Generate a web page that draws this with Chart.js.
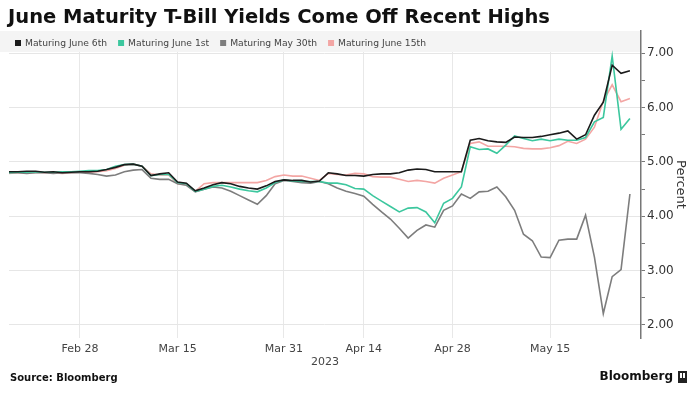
<!DOCTYPE html>
<html>
<head>
<meta charset="utf-8">
<script src="https://cdn.jsdelivr.net/npm/chart.js@4.4.0/dist/chart.umd.min.js"></script>
<style>
  html, body { margin: 0; padding: 0; background: #fff; }
</style>
</head>
<body>
<canvas id="myChart" width="698" height="398"></canvas>
<script>
// business days shown on the x axis (Good Friday and Presidents Day skipped)
const dates = [
  "Feb 15","Feb 16","Feb 17","Feb 21","Feb 22","Feb 23","Feb 24","Feb 27","Feb 28",
  "Mar 1","Mar 2","Mar 3","Mar 6","Mar 7","Mar 8","Mar 9","Mar 10","Mar 13","Mar 14","Mar 15",
  "Mar 16","Mar 17","Mar 20","Mar 21","Mar 22","Mar 23","Mar 24","Mar 27","Mar 28","Mar 29","Mar 30","Mar 31",
  "Apr 3","Apr 4","Apr 5","Apr 6","Apr 10","Apr 11","Apr 12","Apr 13","Apr 14",
  "Apr 17","Apr 18","Apr 19","Apr 20","Apr 21","Apr 24","Apr 25","Apr 26","Apr 27","Apr 28",
  "May 1","May 2","May 3","May 4","May 5","May 8","May 9","May 10","May 11","May 12",
  "May 15","May 16","May 17","May 18","May 19","May 22","May 23","May 24","May 25","May 26"
]
const tickLabels = ["Feb 28", "Mar 15", "Mar 31", "Apr 14", "Apr 28", "May 15"]
const yTicks = [2, 2.5, 3, 3.5, 4, 4.5, 5, 5.5, 6, 6.5, 7]

const june6 = [
  4.82, 4.82, 4.83, 4.83, 4.81, 4.82, 4.80, 4.81, 4.82, 4.82, 4.83,
  4.86, 4.90, 4.95, 4.96, 4.92, 4.75, 4.78, 4.80, 4.63, 4.61,
  4.47, 4.52, 4.58, 4.62, 4.60, 4.55, 4.52, 4.50, 4.56, 4.64,
  4.67, 4.66, 4.66, 4.63, 4.65, 4.80, 4.78, 4.75, 4.75, 4.74,
  4.77, 4.78, 4.78, 4.80, 4.85, 4.87, 4.86, 4.82, 4.82, 4.82,
  4.82, 5.40, 5.43, 5.39, 5.37, 5.36, 5.46, 5.45, 5.45, 5.47,
  5.50, 5.53, 5.57, 5.42, 5.50, 5.86, 6.10, 6.78, 6.63, 6.68
]
const june1 = [
  4.80, 4.81, 4.81, 4.82, 4.81, 4.81, 4.82, 4.82, 4.83, 4.84, 4.84,
  4.86, 4.92, 4.95, 4.96, 4.92, 4.75, 4.77, 4.77, 4.62, 4.60,
  4.46, 4.50, 4.55, 4.57, 4.54, 4.50, 4.47, 4.45, 4.52, 4.62,
  4.67, 4.65, 4.64, 4.64, 4.64, 4.61, 4.61, 4.58, 4.51, 4.50,
  4.38, 4.28, 4.18, 4.08, 4.15, 4.16, 4.08, 3.88, 4.24, 4.33,
  4.54, 5.28, 5.23, 5.24, 5.16, 5.31, 5.48, 5.43, 5.39, 5.42,
  5.39, 5.42, 5.40, 5.40, 5.45, 5.74, 5.82, 6.95, 5.60, 5.80
]
const may30 = [
  4.80, 4.80, 4.79, 4.80, 4.80, 4.79, 4.80, 4.80, 4.80, 4.79, 4.77,
  4.74, 4.76, 4.82, 4.85, 4.86, 4.70, 4.68, 4.68, 4.60, 4.57,
  4.45, 4.50, 4.54, 4.52, 4.46, 4.38, 4.30, 4.22, 4.38, 4.60,
  4.66, 4.64, 4.62, 4.61, 4.64, 4.60, 4.52, 4.46, 4.42, 4.37,
  4.22, 4.08, 3.95, 3.78, 3.60, 3.74, 3.84, 3.80, 4.11, 4.19,
  4.41, 4.33, 4.45, 4.46, 4.54, 4.36, 4.11, 3.67, 3.55, 3.25,
  3.24, 3.56, 3.58, 3.58, 4.02, 3.25, 2.21, 2.89, 3.02, 4.41
]
const june15 = [
  4.79, 4.80, 4.80, 4.81, 4.80, 4.80, 4.79, 4.80, 4.81, 4.81, 4.82,
  4.84, 4.88, 4.94, 4.96, 4.92, 4.78, 4.76, 4.76, 4.60, 4.58,
  4.46, 4.60, 4.62, 4.62, 4.62, 4.62, 4.62, 4.62, 4.66, 4.73,
  4.76, 4.74, 4.74, 4.70, 4.66, 4.79, 4.77, 4.76, 4.79, 4.78,
  4.73, 4.72, 4.72, 4.68, 4.64, 4.66, 4.64, 4.61, 4.70, 4.76,
  4.82, 5.34, 5.37, 5.29, 5.29, 5.29, 5.28, 5.25, 5.24, 5.24,
  5.26, 5.30, 5.38, 5.34, 5.42, 5.64, 6.12, 6.42, 6.11, 6.17
]

const seriesNames = ["Maturing June 6th", "Maturing June 1st", "Maturing May 30th", "Maturing June 15th"]
const seriesColors = ["#1b1b1b", "#3cc79e", "#7d7d7d", "#f3a6a4"]
const seriesValues = [june6, june1, may30, june15]

const titleText = "June Maturity T-Bill Yields Come Off Recent Highs"
const font = '"DejaVu Sans", Verdana, sans-serif'

const extras = {
    id: 'extras',
    beforeDatasetsDraw(chart){
        const {ctx, chartArea} = chart
        ctx.save()
        ctx.fillStyle = '#f4f4f4'
        ctx.fillRect(0, 31, chartArea.right - 1, 21)
        ctx.restore()
    },
    afterDraw(chart){
        const {ctx} = chart
        ctx.save()
        ctx.textBaseline = 'middle'

        ctx.fillStyle = '#111'
        ctx.font = 'bold 19.5px ' + font
        ctx.fillText(titleText, 8, 18)

        // legend row
        ctx.font = '9.2px ' + font
        let x = 15
        chart.data.datasets.forEach(ds => {
            ctx.fillStyle = ds.borderColor
            ctx.fillRect(x, 40, 6, 6)
            ctx.fillStyle = '#444'
            ctx.fillText(ds.label, x + 10, 43.5)
            x += 10 + ctx.measureText(ds.label).width + 11
        })

        ctx.fillStyle = '#111'
        ctx.font = 'bold 10px ' + font
        ctx.fillText('Source: Bloomberg', 10, 378)

        ctx.font = 'bold 12px ' + font
        ctx.textAlign = 'right'
        ctx.fillText('Bloomberg', 673, 377)
        ctx.fillStyle = '#222'
        ctx.fillRect(678, 371, 9, 12)
        ctx.fillStyle = '#fff'
        ctx.fillRect(680, 373, 2, 5)
        ctx.fillRect(683, 373, 2, 5)
        ctx.restore()
    }
}

const data = {
    datasets: seriesValues.map((vals, k) => ({
        label: seriesNames[k],
        data: vals.map((v, i) => ({x: i, y: v})),
        borderColor: seriesColors[k],
        backgroundColor: seriesColors[k],
        borderWidth: 1.6,
        pointRadius: 0,
        tension: 0,
        fill: false
    }))
}

const config = {
    type: 'line',
    data: data,
    options: {
        responsive: false,
        animation: false,
        layout: { padding: { left: 9, right: 0, top: 31, bottom: 28 } },
        plugins: { legend: { display: false }, tooltip: { enabled: false } },
        scales: {
            x: {
                type: 'linear',
                min: 0,
                max: 71.25,
                afterBuildTicks: s => { s.ticks = tickLabels.map(l => ({value: dates.indexOf(l)})) },
                afterFit: s => { s.height = 32 },
                ticks: {
                    callback: v => dates[v],
                    autoSkip: false,
                    maxRotation: 0,
                    padding: 5,
                    color: '#444',
                    font: { family: font, size: 11 }
                },
                grid: { color: '#e8e8e8', drawTicks: false },
                border: { display: false },
                title: {
                    display: true, text: '2023', color: '#444',
                    font: { family: font, size: 11 },
                    padding: { top: 0, bottom: 1 }
                }
            },
            y: {
                position: 'right',
                min: 1.76,
                max: 7.41,
                afterBuildTicks: s => { s.ticks = yTicks.map(v => ({value: v})) },
                afterFit: s => { s.width = 57 },
                ticks: {
                    callback: v => Number.isInteger(v) ? v.toFixed(2) : '',
                    padding: 2,
                    color: '#333',
                    font: { family: font, size: 12 }
                },
                grid: {
                    color: c => (c.tick && Number.isInteger(c.tick.value)) ? '#e6e6e6' : 'rgba(0,0,0,0)',
                    tickColor: '#777',
                    tickLength: 4
                },
                border: { display: true, color: '#777', width: 1.5 },
                title: {
                    display: true, text: 'Percent', color: '#333',
                    font: { family: font, size: 13 },
                    padding: { top: 10, bottom: 0 }
                }
            }
        }
    },
    plugins: [extras]
}

new Chart(document.getElementById('myChart'), config)
</script>
</body>
</html>
